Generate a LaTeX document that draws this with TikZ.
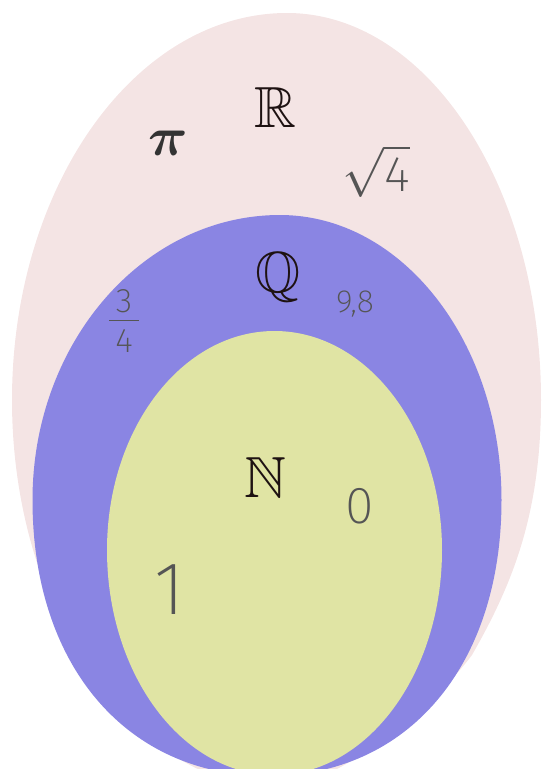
\RequirePackage{fix-cm}
\documentclass[tikz,border=0pt]{standalone}
\usepackage{amsmath,amssymb}
\usepackage{fontspec}
\newfontfamily\hand{Fira Sans}[UprightFont=* ExtraLight]
\definecolor{pinkR}{RGB}{244,228,228}
\definecolor{blueQ}{RGB}{138,133,227}
\definecolor{yellowN}{RGB}{224,228,164}
\definecolor{handgray}{RGB}{85,85,85}
\definecolor{inkdark}{RGB}{30,18,18}
\begin{document}
\begin{tikzpicture}[x=1pt,y=-1pt,
  bigset/.style={font=\fontsize{58}{60}\selectfont, inner sep=0pt, text=inkdark},
  handtxt/.style={text=handgray, inner sep=0pt}]
\useasboundingbox (0,0) rectangle (545,769);
\begin{scope}
\clip (0,0) rectangle (545,769);
% R set
\fill[pinkR] (12,400) .. controls (12,186.4) and (135.2,13) .. (287,13)
  .. controls (427.2,13) and (541,186.4) .. (541,400)
  .. controls (541,515) and (512,585) .. (472,655)
  .. controls (446,690) and (370,765) .. (287,790)
  .. controls (135,790) and (12,615) .. (12,400) -- cycle;
% Q set
\fill[blueQ] (32.5,500) .. controls (32.5,342.7) and (143.4,215) .. (280,215)
  .. controls (402.3,215) and (501.5,342.7) .. (501.5,500)
  .. controls (501.5,665.6) and (408.1,776) .. (268,776)
  .. controls (126.7,776) and (32.5,665.6) .. (32.5,500) -- cycle;
% N set
\fill[yellowN] (107,550) arc[start angle=180, end angle=0, x radius=167.5pt, y radius=219pt]
  arc[start angle=0, end angle=-180, x radius=167.5pt, y radius=225pt] -- cycle;
\end{scope}
% set names
\node[bigset, anchor=base] (R) at (275,127) {$\mathbb{R}$};
\node[bigset, anchor=base] (Q) at (278,292) {$\mathbb{Q}$};
\node[bigset, anchor=base] (N) at (265,497) {$\mathbb{N}$};
% elements
\node[inner sep=0pt, text=black!80, font=\fontsize{55}{58}\selectfont] (pi) at (168,143) {$\boldsymbol{\pi}$};
\node[handtxt, font=\fontsize{50}{54}\selectfont] (sqrt4) at (376,171) {$\sqrt{\mbox{\hand 4}}$};
\node[handtxt, font=\fontsize{34}{38}\selectfont] (frac) at (124,321)
  {$\textstyle\frac{\makebox[30pt]{\hand 3}\rule[-6pt]{0pt}{6pt}}{\rule{0pt}{30pt}\makebox[30pt]{\hand 4}}$};
\node[handtxt, font=\hand\fontsize{32}{36}\selectfont, anchor=base] (nine) at (355,312) {9,8};
\node[handtxt, font=\hand\fontsize{52}{56}\selectfont, anchor=base] (zero) at (360,523) {0};
\node[handtxt, font=\hand\fontsize{75}{78}\selectfont, anchor=base] (one) at (170,614) {1};
\end{tikzpicture}
\end{document}
